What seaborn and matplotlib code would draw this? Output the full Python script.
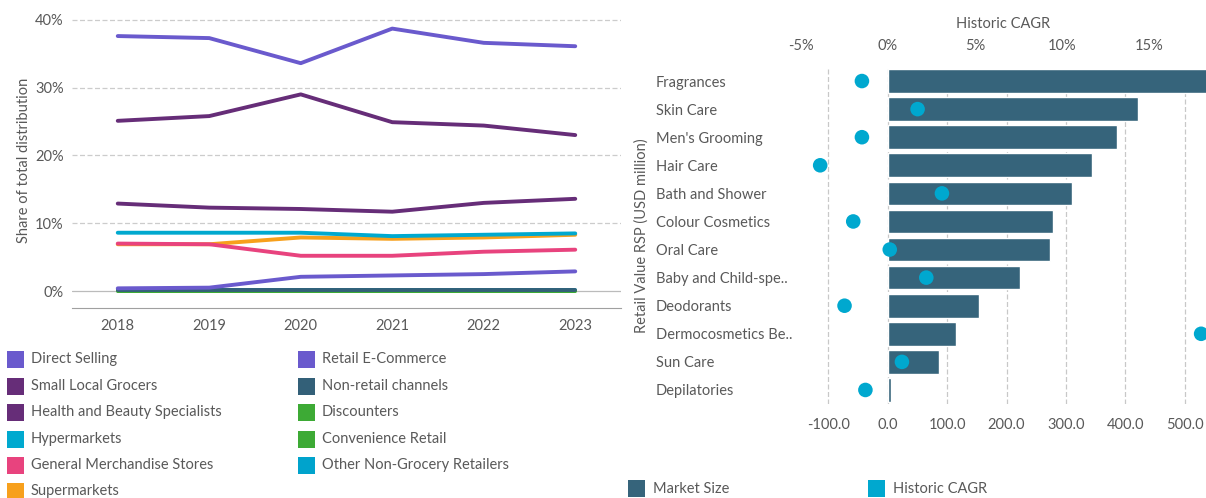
import numpy as np
import pandas as pd
import matplotlib
matplotlib.use("Agg")
import matplotlib.pyplot as plt
import seaborn as sns
from matplotlib.patches import Rectangle
from matplotlib.ticker import FuncFormatter

sns.set_theme(style="white")
plt.rcParams['font.family'] = ['Lato', 'DejaVu Sans']

# ---------------- data: left chart ----------------
years = ["2018", "2019", "2020", "2021", "2022", "2023"]
channels = ["Direct Selling", "Small Local Grocers", "Health and Beauty Specialists",
            "Hypermarkets", "General Merchandise Stores", "Supermarkets",
            "Retail E-Commerce", "Non-retail channels", "Discounters",
            "Convenience Retail", "Other Non-Grocery Retailers"]
direct_selling = [37.6, 37.3, 33.6, 38.7, 36.6, 36.1]
small_local_grocers = [12.9, 12.3, 12.1, 11.7, 13.0, 13.6]
health_beauty = [25.1, 25.8, 29.0, 24.9, 24.4, 23.0]
hypermarkets = [8.6, 8.6, 8.6, 8.1, 8.3, 8.5]
general_merch = [7.0, 6.9, 5.2, 5.2, 5.8, 6.1]
supermarkets = [6.9, 6.9, 7.9, 7.7, 7.9, 8.3]
retail_ecommerce = [0.4, 0.5, 2.1, 2.3, 2.5, 2.9]
non_retail = [0.2, 0.2, 0.2, 0.2, 0.2, 0.2]
discounters = [0.0, 0.0, 0.0, 0.0, 0.0, 0.0]
convenience = [0.0, 0.0, 0.0, 0.0, 0.0, 0.0]
other_non_grocery = [0.1, 0.1, 0.1, 0.1, 0.1, 0.1]
series = [direct_selling, small_local_grocers, health_beauty, hypermarkets,
          general_merch, supermarkets, retail_ecommerce, non_retail,
          discounters, convenience, other_non_grocery]
colors = ["#6A5ACD", "#662D78", "#662D78", "#00A9CF", "#E8437E", "#F7A01C",
          "#6A5ACD", "#336078", "#3DAA35", "#3DAA35", "#00A3CC"]
y_ticks_left = [0, 10, 20, 30, 40]

# ---------------- data: right chart ----------------
categories = ["Fragrances", "Skin Care", "Men's Grooming", "Hair Care",
              "Bath and Shower", "Colour Cosmetics", "Oral Care",
              "Baby and Child-spe..", "Deodorants", "Dermocosmetics Be..",
              "Sun Care", "Depilatories"]
market_size = [560, 421, 386, 344, 310, 278, 274, 222, 154, 115, 86, 5]
historic_cagr = [-1.5, 1.7, -1.5, -3.9, 3.1, -2.0, 0.1, 2.2, -2.5, 18.0, 0.8, -1.3]
market_ticks = [-100, 0, 100, 200, 300, 400, 500]
cagr_ticks = [-5, 0, 5, 10, 15]

TXT = "#595959"
FS = 10.5
W, H = 1206, 498
fig = plt.figure(figsize=(W / 100, H / 100), dpi=100)

# ---------------- left line chart ----------------
axL = fig.add_axes([72 / W, (H - 308) / H, (621 - 72) / W, (308 - 13) / H])
rows = []
for name, vals in zip(channels, series):
    for i, (yr, v) in enumerate(zip(years, vals)):
        rows.append({"channel": name, "x": i, "share": v})
df = pd.DataFrame(rows)
draw_order = list(reversed(channels))
for name in draw_order:
    sub = df[df.channel == name]
    sns.lineplot(data=sub, x="x", y="share", ax=axL, color=colors[channels.index(name)],
                 linewidth=2.8, legend=False)
axL.set_xlim(-0.5, 5.5)
axL.set_ylim(-2.5, 41)
axL.set_yticks(y_ticks_left)
axL.yaxis.set_major_formatter(FuncFormatter(lambda v, p: f"{int(v)}%"))
axL.set_xticks(range(len(years)))
axL.set_xticklabels(years)
axL.set_xticks(np.arange(-0.5, 6.0, 1.0), minor=True)
axL.tick_params(axis="x", which="major", length=0, pad=8, labelsize=FS, labelcolor=TXT)
axL.tick_params(axis="x", which="minor", length=5, width=0.8, color="#A0A0A0", direction="out")
axL.tick_params(axis="y", length=0, pad=6, labelsize=FS, labelcolor=TXT)
for s in ["top", "right", "left"]:
    axL.spines[s].set_visible(False)
axL.spines["bottom"].set_color("#A0A0A0")
axL.spines["bottom"].set_linewidth(0.8)
for t in y_ticks_left:
    if t == 0:
        axL.axhline(t, color="#BBBBBB", lw=0.9, zorder=0)
    else:
        axL.axhline(t, color="#CCCCCC", lw=0.9, ls=(0, (4, 2)), zorder=0)
axL.set_xlabel("")
axL.set_ylabel("Share of total distribution", fontsize=FS, color=TXT, labelpad=3)

# left legend (manual, two columns)
row_y = [359, 386, 412, 439, 465, 491]
col_x = [7, 298]
for k, name in enumerate(channels):
    c = 0 if k < 6 else 1
    r = k if k < 6 else k - 6
    x0, yc = col_x[c], row_y[r]
    fig.patches.append(Rectangle((x0 / W, (H - yc - 8.5) / H), 17 / W, 17 / H,
                                 transform=fig.transFigure, facecolor=colors[k],
                                 edgecolor="none"))
    fig.text((x0 + 24) / W, (H - yc) / H, name, fontsize=FS, color=TXT,
             va="center", ha="left")

# ---------------- right bar chart ----------------
axR = fig.add_axes([800 / W, (H - 404) / H, (1206 - 800) / W, (404 - 67) / H])
dfr = pd.DataFrame({"cat": categories, "size": market_size, "cagr": historic_cagr})
sns.barplot(data=dfr, y="cat", x="size", ax=axR, color="#36647B", orient="h",
            width=0.84, saturation=1, zorder=2)
axR.set_xlim(-148, 536)
axR.set_ylim(11.5, -0.5)
axR.set_xticks(market_ticks)
axR.set_xticklabels([f"{v:.1f}" for v in market_ticks])
for t in market_ticks:
    axR.axvline(t, color="#C8C8C8", lw=0.9, ls=(0, (4, 2)), zorder=0)
for s in axR.spines.values():
    s.set_visible(False)
axR.tick_params(axis="x", length=0, pad=10, labelsize=FS, labelcolor=TXT)
axR.tick_params(axis="y", length=0, pad=104, labelsize=FS, labelcolor=TXT)
for lab in axR.get_yticklabels():
    lab.set_horizontalalignment("left")
axR.set_xlabel("")
axR.set_ylabel("Retail Value RSP (USD million)", fontsize=FS, color=TXT, labelpad=5)

axT = axR.twiny()
sns.scatterplot(data=dfr, y="cat", x="cagr", ax=axT, color="#00A8CF", s=110,
                edgecolor="none", zorder=5, legend=False)
axT.set_xlim(-5.06, 18.28)
axT.set_ylim(11.5, -0.5)
axT.set_xticks(cagr_ticks)
axT.xaxis.set_major_formatter(FuncFormatter(lambda v, p: f"{int(v)}%"))
axT.tick_params(axis="x", length=0, pad=10, labelsize=FS, labelcolor=TXT)
axT.set_xlabel("Historic CAGR", fontsize=FS, color=TXT, labelpad=8)
axT.set_ylabel("")
for s in axT.spines.values():
    s.set_visible(False)

# right legend
for x0, name, col in [(628, "Market Size", "#36647B"), (868, "Historic CAGR", "#00A8CF")]:
    fig.patches.append(Rectangle((x0 / W, (H - 488 - 8.5) / H), 17 / W, 17 / H,
                                 transform=fig.transFigure, facecolor=col,
                                 edgecolor="none"))
    fig.text((x0 + 25) / W, (H - 489) / H, name, fontsize=FS, color=TXT,
             va="center", ha="left")

fig.savefig("out.png", dpi=100)
